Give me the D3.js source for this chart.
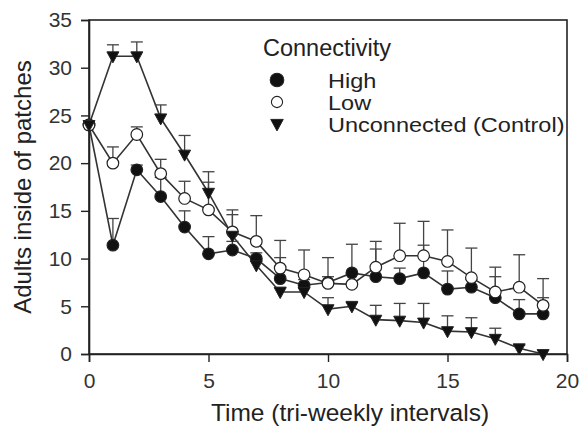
<!DOCTYPE html>
<html>
<head>
<meta charset="utf-8">
<script src="https://cdn.jsdelivr.net/npm/d3@7"></script>
<style>
  html, body { margin: 0; padding: 0; background: #fff; }
  svg { display: block; font-family: "Liberation Sans", Arial, Helvetica, sans-serif; }
</style>
</head>
<body>
<svg id="chart" width="584" height="437"></svg>
<script>
// ---- data ----
const times = [0,1,2,3,4,5,6,7,8,9,10,11,12,13,14,15,16,17,18,19];
const highMean = [24.0,11.4,19.3,16.5,13.3,10.5,10.9,10.0,7.9,7.2,7.5,8.5,8.1,7.9,8.5,6.8,7.0,5.9,4.2,4.2];
const highErr  = [0.0,2.8,0.5,2.0,1.7,1.8,0.9,0.6,2.2,0.6,0.6,3.0,2.9,1.1,2.9,1.9,0.8,2.2,1.5,1.7];
const lowMean  = [24.0,20.0,23.0,18.9,16.3,15.1,12.8,11.8,9.0,8.3,7.4,7.3,9.1,10.3,10.3,9.7,8.0,6.5,7.0,5.1];
const lowErr   = [0.0,1.7,0.8,1.5,1.8,2.9,2.3,2.7,2.9,2.6,2.7,1.2,2.7,3.4,3.6,3.3,3.1,2.6,3.4,2.8];
const ctrlMean = [24.0,31.2,31.2,24.7,20.9,16.9,12.4,9.3,6.5,6.5,4.7,5.0,3.6,3.5,3.3,2.4,2.3,1.6,0.6,0.0];
const ctrlErr  = [0.0,1.2,1.5,1.4,2.0,2.2,2.2,0.6,0.5,0.5,1.2,0.5,1.5,1.8,2.0,1.6,1.5,1.1,0.3,0.0];
const xTicks = [0,5,10,15,20];
const yTicks = [0,5,10,15,20,25,30,35];
const legendTitle = "Connectivity";
const seriesNames = ["High","Low","Unconnected (Control)"];
const xLabel = "Time (tri-weekly intervals)";
const yLabel = "Adults inside of patches";

// ---- layout ----
const L = 89, R = 567, T = 20, B = 354;
const svg = d3.select("#chart");
const x = d3.scaleLinear().domain([0,20]).range([L,R]);
const y = d3.scaleLinear().domain([0,35]).range([B,T]);
const ink = "#222";

// frame
svg.append("rect").attr("x",L).attr("y",T).attr("width",R-L).attr("height",B-T)
  .attr("fill","none").attr("stroke",ink).attr("stroke-width",1.6);

// axes
const xAxis = svg.append("g").attr("transform",`translate(0,${B})`)
  .call(d3.axisBottom(x).tickValues(xTicks).tickSize(8).tickPadding(11).tickFormat(d3.format("d")));
const yAxis = svg.append("g").attr("transform",`translate(${L},0)`)
  .call(d3.axisLeft(y).tickValues(yTicks).tickSize(8).tickPadding(9).tickFormat(d3.format("d")));
[xAxis,yAxis].forEach(g=>{
  g.select(".domain").attr("stroke",ink).attr("stroke-width",1.6);
  g.selectAll(".tick line").attr("stroke",ink).attr("stroke-width",1.4);
  g.selectAll(".tick text").attr("fill","#333").style("font-size","21px")
   .style("font-family",'"Liberation Sans", Arial, sans-serif');
});

// axis labels
svg.append("text").attr("x",350).attr("y",421).attr("text-anchor","middle")
  .attr("fill","#222").style("font-size","24.5px").text(xLabel);
svg.append("text").attr("transform",`translate(31,${(T+B)/2}) rotate(-90)`)
  .attr("text-anchor","middle").attr("fill","#222").style("font-size","24px").text(yLabel);

const series = [
  {name:seriesNames[0], mean:highMean, err:highErr, shape:"circle", fill:"#111"},
  {name:seriesNames[1], mean:lowMean,  err:lowErr,  shape:"circle", fill:"#fff"},
  {name:seriesNames[2], mean:ctrlMean, err:ctrlErr, shape:"tri",    fill:"#111"}
];

const line = d3.line().x((d,i)=>x(times[i])).y(d=>y(d));

// lines
series.forEach(s=>{
  svg.append("path").datum(s.mean).attr("d",line)
    .attr("fill","none").attr("stroke","#333").attr("stroke-width",1.6);
});
// error bars (upper only)
series.forEach(s=>{
  const g = svg.append("g").attr("stroke","#444").attr("stroke-width",1.3);
  times.forEach((t,i)=>{
    if (s.err[i] <= 0) return;
    const top = s.mean[i] + s.err[i];
    g.append("line").attr("x1",x(t)).attr("x2",x(t)).attr("y1",y(s.mean[i])).attr("y2",y(top));
    g.append("line").attr("x1",x(t)-6).attr("x2",x(t)+6).attr("y1",y(top)).attr("y2",y(top));
  });
});

const triPath = (cx,cy,w,h)=>`M${cx-w/2},${cy-h*0.4}L${cx+w/2},${cy-h*0.4}L${cx},${cy+h*0.6}Z`;

// markers
series.forEach(s=>{
  const g = svg.append("g");
  times.forEach((t,i)=>{
    const cx = x(t), cy = y(s.mean[i]);
    if (s.shape==="circle") {
      g.append("circle").attr("cx",cx).attr("cy",cy).attr("r",5.8)
        .attr("fill",s.fill).attr("stroke","#222").attr("stroke-width",1.2);
    } else {
      g.append("path").attr("d",triPath(cx,cy,12,11)).attr("fill",s.fill)
        .attr("stroke","#222").attr("stroke-width",1);
    }
  });
});

// legend
const lg = svg.append("g");
lg.append("text").attr("x",263).attr("y",56).attr("fill","#222").style("font-size","23.5px").text(legendTitle);
const rowY = [80,102,124];
series.forEach((s,i)=>{
  const cx = 277, cy = rowY[i];
  if (s.shape==="circle") {
    lg.append("circle").attr("cx",cx).attr("cy",cy).attr("r", i===0?6.8:5.6)
      .attr("fill",s.fill).attr("stroke","#222").attr("stroke-width",1.1);
  } else {
    lg.append("path").attr("d",triPath(cx,cy,12.5,11.5)).attr("fill",s.fill).attr("stroke","#222");
  }
  lg.append("text").attr("transform",`translate(328,${cy+7.5}) scale(1.12,1)`).attr("fill","#222")
    .style("font-size","21px").text(s.name);
});
</script>
</body>
</html>
